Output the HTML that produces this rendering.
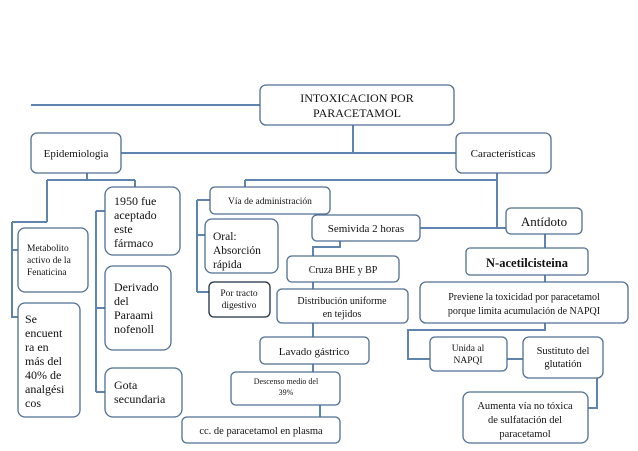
<!DOCTYPE html><html><head><meta charset="utf-8"><style>body{margin:0;background:#fff}svg{display:block}text{font-family:"Liberation Serif",serif;fill:#111}</style></head><body>
<svg width="638" height="451" viewBox="0 0 638 451" xmlns="http://www.w3.org/2000/svg">
<g stroke="#5f84ad" stroke-width="2" fill="none">
<path d="M31 105H260M353 125V153M121 153H456"/>
<path d="M87 173V180M47 180H135M47 180V222M12 222H47M12 222V317H18M12 250H18M135 180V187"/>
<path d="M96 211V392M96 211H105M96 308H105M96 392H105"/>
<path d="M497 173V228M245 180H497M245 180V187M420 228H506"/>
<path d="M197 200V292M197 200H210M197 235H205M197 292H209"/>
<path d="M340 241V247H313V256M313 282V289M313 323V337M313 364V372M320 405V417"/>
<path d="M545 234V248M545 275V282M545 323V330H408V359H430M507 359H523M597 378V408H588"/>
</g>
<g fill="#fff" stroke="#4f6f93" stroke-width="1.3">
<rect x="260" y="85" width="194" height="40" rx="6"/>
<rect x="31" y="133" width="90" height="40" rx="6"/>
<rect x="456" y="133" width="95" height="40" rx="6"/>
<rect x="18" y="228" width="70" height="64" rx="7"/>
<rect x="18" y="303" width="62" height="114" rx="7"/>
<rect x="105" y="187" width="75" height="68" rx="8"/>
<rect x="105" y="266" width="66" height="84" rx="8"/>
<rect x="105" y="368" width="77" height="49" rx="8"/>
<rect x="210" y="187" width="120" height="27" rx="5"/>
<rect x="205" y="219" width="73" height="54" rx="7"/>
<rect x="209" y="282" width="61" height="35" rx="5" stroke="#1f2f44"/>
<rect x="312" y="215" width="108" height="26" rx="5"/>
<rect x="287" y="256" width="112" height="26" rx="5"/>
<rect x="277" y="289" width="131" height="34" rx="5"/>
<rect x="260" y="337" width="109" height="27" rx="5"/>
<rect x="231" y="372" width="109" height="33" rx="5"/>
<rect x="182" y="417" width="158" height="26" rx="5"/>
<rect x="506" y="208" width="76" height="26" rx="5"/>
<rect x="466" y="248" width="122" height="27" rx="4"/>
<rect x="420" y="282" width="208" height="41" rx="6"/>
<rect x="430" y="337" width="77" height="34" rx="5"/>
<rect x="523" y="337" width="80" height="41" rx="6"/>
<rect x="463" y="392" width="125" height="51" rx="7"/>
</g>
<g font-size="12" text-anchor="middle">
<text x="357" y="102">INTOXICACION POR</text><text x="357" y="117">PARACETAMOL</text>
<text x="76" y="157" font-size="11">Epidemiologia</text>
<text x="503" y="157" font-size="11">Características</text>
<text x="270" y="204" font-size="9.5">Vía de administración</text>
<text x="366" y="232" font-size="11">Semivida 2 horas</text>
<text x="343" y="273" font-size="10">Cruza BHE y BP</text>
<text x="342" y="304" font-size="10">Distribución uniforme</text><text x="342" y="317" font-size="10">en tejidos</text>
<text x="314" y="355" font-size="11">Lavado gástrico</text>
<text x="286" y="384" font-size="8">Descenso medio del</text><text x="286" y="395" font-size="8">39%</text>
<text x="261" y="434" font-size="10.5">cc. de paracetamol en plasma</text>
<text x="544" y="226" font-size="13">Antídoto</text>
<text x="527" y="267" font-size="12.5" font-weight="bold">N-acetilcisteina</text>
<text x="524" y="300" font-size="10">Previene la toxicidad por paracetamol</text><text x="524" y="314" font-size="10">porque limita acumulación de NAPQI</text>
<text x="468" y="351" font-size="9.5">Unida al</text><text x="468" y="363" font-size="9.5">NAPQI</text>
<text x="563" y="354" font-size="10.5">Sustituto del</text><text x="563" y="367" font-size="10.5">glutatión</text>
<text x="525" y="409" font-size="10.5">Aumenta  vía no tóxica</text><text x="525" y="423" font-size="10.5">de sulfatación del</text><text x="525" y="437" font-size="10.5">paracetamol</text>
<text x="239" y="296" font-size="9.5">Por tracto</text><text x="239" y="308" font-size="9.5">digestivo</text>
</g>
<g font-size="9.5">
<text x="27" y="251">Metabolito</text><text x="27" y="263">activo de la</text><text x="27" y="275">Fenaticina</text>
</g>
<g font-size="12">
<text x="25" y="323">Se</text><text x="25" y="337">encuent</text><text x="25" y="351">ra en</text><text x="25" y="365">más del</text><text x="25" y="379">40% de</text><text x="25" y="393">analgési</text><text x="25" y="407">cos</text>
<text x="114" y="205">1950 fue</text><text x="114" y="219">aceptado</text><text x="114" y="233">este</text><text x="114" y="247">fármaco</text>
<text x="114" y="291">Derivado</text><text x="114" y="305">del</text><text x="114" y="319">Paraami</text><text x="114" y="333">nofenoll</text>
<text x="114" y="389">Gota</text><text x="114" y="403">secundaria</text>
<text x="213" y="240" font-size="11.5">Oral:</text><text x="213" y="254" font-size="11.5">Absorción</text><text x="213" y="268" font-size="11.5">rápida</text>
</g>
</svg></body></html>
